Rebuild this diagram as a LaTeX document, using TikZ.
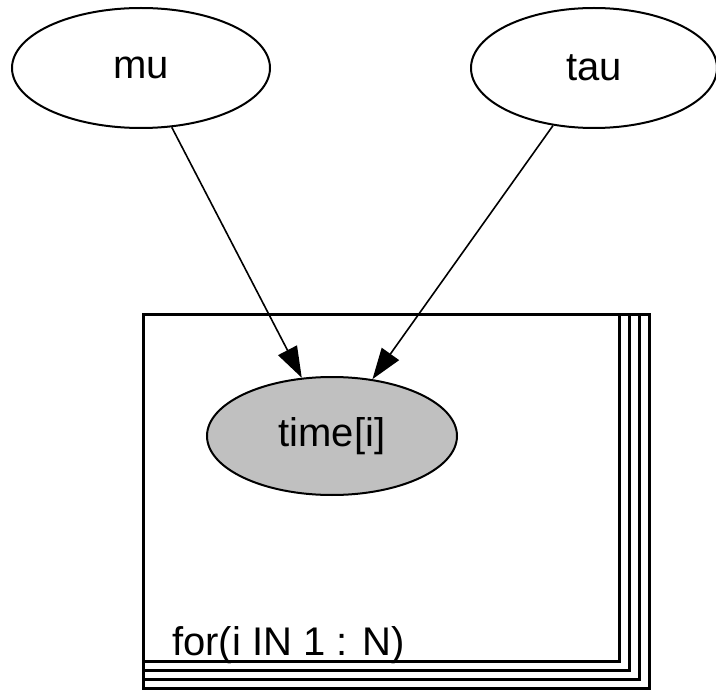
\documentclass[tikz,border=0pt]{standalone}
\usepackage{fontspec}
\setmainfont{Liberation Sans}
\usetikzlibrary{shapes.geometric,arrows.meta}
\definecolor{nodegray}{RGB}{192,192,192}
\begin{document}
\begin{tikzpicture}[x=1pt,y=-1pt,
  var/.style={ellipse,draw=black,line width=2pt,inner sep=0pt,font=\fontsize{40}{46}\selectfont},
  edge/.style={line width=1.6pt,-{Triangle[length=31pt,width=21pt]}},
  plate/.style={line width=3pt},
  platelabel/.style={anchor=base west,inner sep=0pt,font=\fontsize{40}{46}\selectfont}]
\useasboundingbox (0,0) rectangle (716,690);
\node[var,minimum width=258pt,minimum height=120pt] (mu) at (141,68) {mu};
\node[var,minimum width=246pt,minimum height=120pt] (tau) at (594,68) {tau};
\node[var,fill=nodegray,minimum width=250pt,minimum height=118pt] (time) at (332,436) {time[i]};
\foreach \k in {0,1,2,3}
  \draw[plate] (143,315) rectangle ({619+10*\k},{661+9*\k});
\node[platelabel] (lbl) at (172,655) {for(i IN 1 : N)};
\draw[edge] (mu) -- (time);
\draw[edge] (tau) -- (time);
\end{tikzpicture}
\end{document}
